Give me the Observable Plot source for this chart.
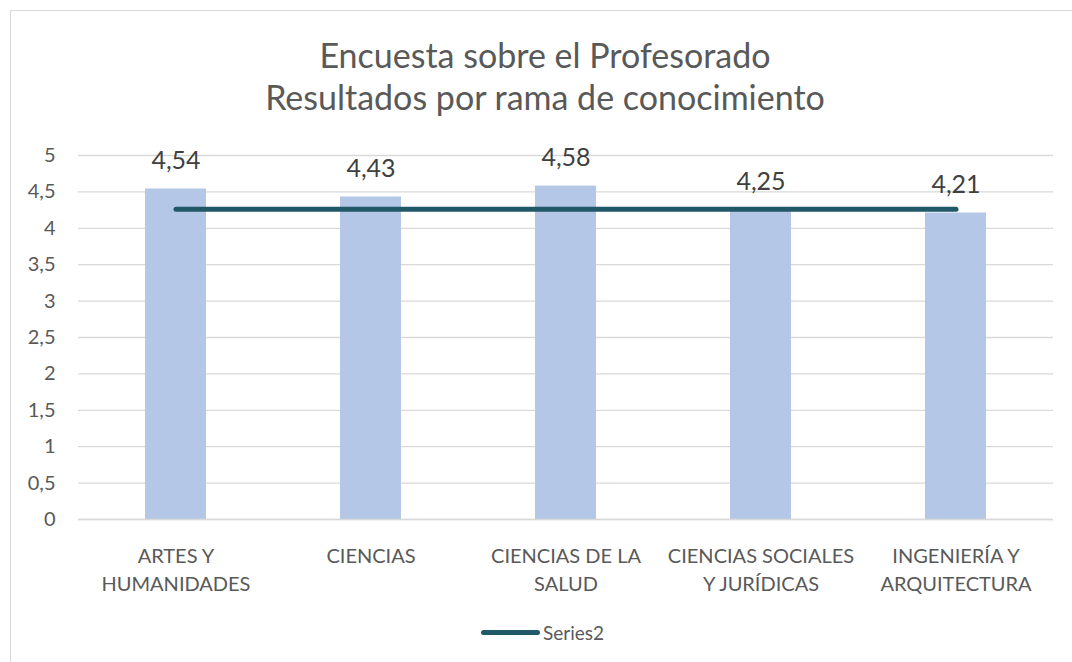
<!DOCTYPE html>
<html>
<head>
<meta charset="utf-8">
<script src="https://cdn.jsdelivr.net/npm/d3@7"></script>
<script src="https://cdn.jsdelivr.net/npm/@observablehq/plot@0.6"></script>
<style>
  html, body { margin: 0; padding: 0; background: #fff; overflow: hidden; }
  body { width: 1072px; height: 662px; position: relative; font-family: Lato, "Open Sans", sans-serif; }
  #frame { position: absolute; left: 10px; top: 10px; width: 1090px; height: 690px; border: 1px solid #d9d9d9; box-sizing: border-box; }
  .title { position: absolute; left: 0; width: 1090px; text-align: center; color: #595959; font-size: 34px; line-height: 42px; white-space: nowrap; }
  #chart { position: absolute; left: 0; top: 130px; }
  #legend { position: absolute; top: 620px; left: 481px; height: 24px; display: flex; align-items: center; color: #595959; font-size: 19px; }
  #legend .sw { width: 59px; height: 5px; border-radius: 3px; background: #215868; margin-right: 3px; }
</style>
</head>
<body>
<div id="frame"></div>
<div class="title" style="top:34px">Encuesta sobre el Profesorado</div>
<div class="title" style="top:76px">Resultados por rama de conocimiento</div>
<div id="chart"></div>
<div id="legend"><div class="sw"></div><span>Series2</span></div>
<script>
const categories = ["ARTES Y\nHUMANIDADES", "CIENCIAS", "CIENCIAS DE LA\nSALUD", "CIENCIAS SOCIALES\nY JURÍDICAS", "INGENIERÍA Y\nARQUITECTURA"];
const values = [4.54, 4.43, 4.58, 4.25, 4.21];
const series2 = [4.26, 4.26, 4.26, 4.26, 4.26];
const yTicks = [0, 0.5, 1, 1.5, 2, 2.5, 3, 3.5, 4, 4.5, 5];

const bars = categories.map((c, i) => ({cat: c, value: values[i]}));
const line = categories.map((c, i) => ({cat: c, value: series2[i]}));
const comma = v => String(v).replace(".", ",");
const comma2 = v => v.toFixed(2).replace(".", ",");

const chart = Plot.plot({
  width: 1072,
  height: 470,
  marginTop: 25,
  marginBottom: 81,
  marginLeft: 78,
  marginRight: 19,
  style: {fontFamily: "Lato, 'Open Sans', sans-serif", color: "#595959", background: "transparent"},
  x: {type: "band", domain: categories, paddingInner: 0.687, paddingOuter: 0.3435, label: null},
  y: {domain: [0, 5], label: null},
  marks: [
    Plot.gridY(yTicks, {stroke: "#d9d9d9", strokeOpacity: 1, strokeWidth: 1.3}),
    Plot.barY(bars, {x: "cat", y: "value", fill: "#b4c7e7"}),
    Plot.ruleY([0], {stroke: "#d9d9d9", strokeWidth: 1.5}),
    Plot.lineY(line, {x: "cat", y: "value", stroke: "#215868", strokeWidth: 5, strokeLinecap: "round"}),
    Plot.text(bars, {x: "cat", y: "value", text: d => comma2(d.value), dy: -20, lineAnchor: "bottom", fontSize: 25, fill: "#404040"}),
    Plot.axisY(yTicks, {tickSize: 0, tickPadding: 23, tickFormat: comma, fontSize: 20, fill: "#595959"}),
    Plot.axisX({tickSize: 0, tickPadding: 24, fontSize: 20, lineHeight: 1.4, fill: "#595959"})
  ]
});
document.getElementById("chart").appendChild(chart);
</script>
</body>
</html>
